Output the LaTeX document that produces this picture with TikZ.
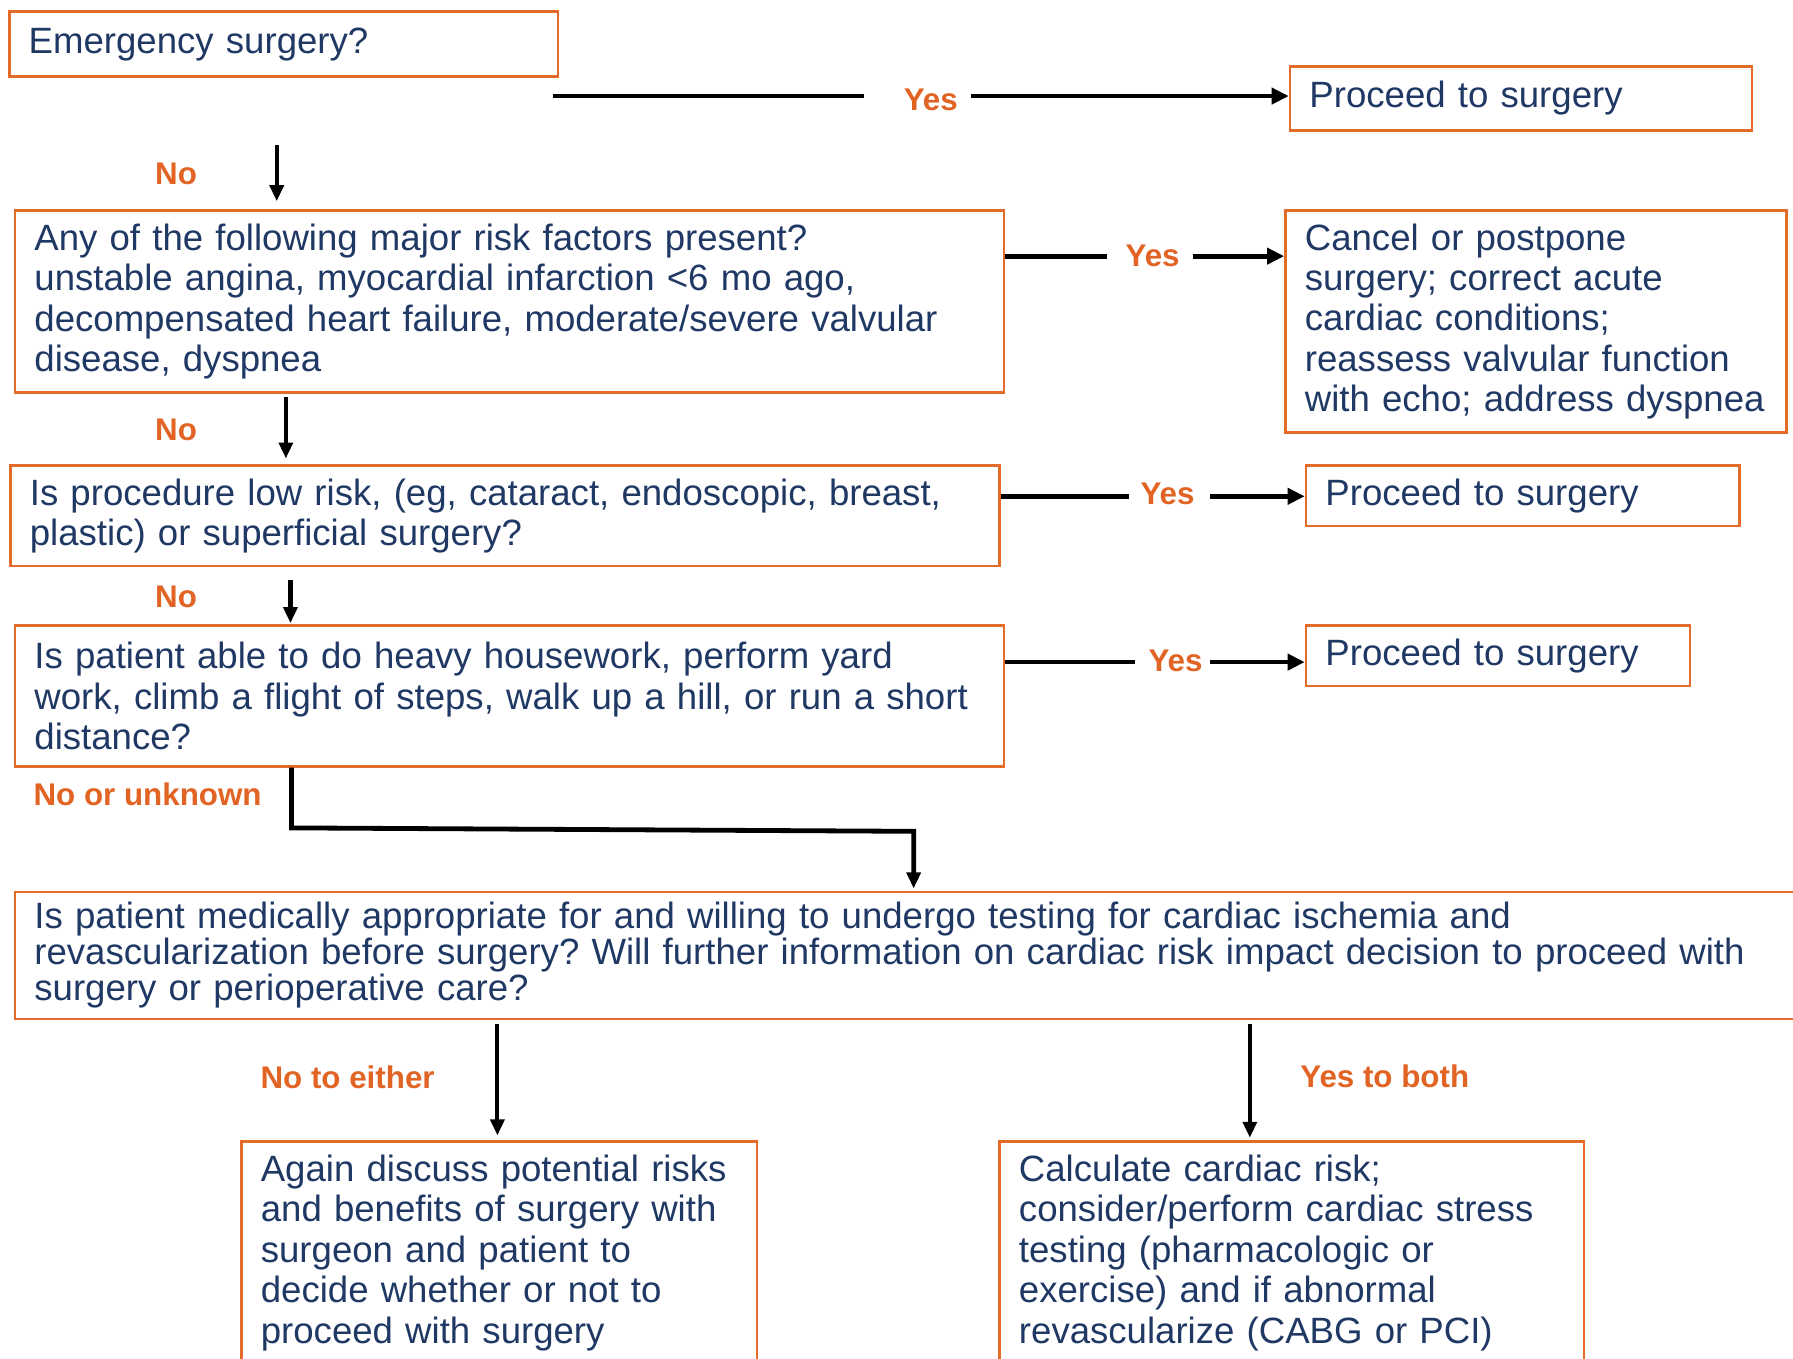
\documentclass[tikz,border=0pt]{standalone}
\usepackage{fontspec}
\setmainfont{Liberation Sans}
\usetikzlibrary{arrows.meta,calc}
\definecolor{boxorange}{RGB}{228,108,42}
\definecolor{navy}{RGB}{31,56,100}
\definecolor{lblorange}{RGB}{226,100,36}
\frenchspacing
\begin{document}
\begin{tikzpicture}[x=0.5pt,y=-0.5pt,
  box/.style={draw=boxorange,line width=1.1pt,anchor=north west,inner xsep=8.5pt,inner ysep=0pt,
    align=left,text=navy,font=\fontsize{16}{17.65}\selectfont},
  lbl/.style={text=lblorange,font=\fontsize{13.7}{15}\selectfont\bfseries,inner sep=0pt},
  yesline/.style={line width=2.1pt},
  yesarrow/.style={line width=2.1pt,-{Triangle[length=7.5pt,width=7pt]}},
  downarrow/.style={line width=1.8pt,-{Triangle[length=7pt,width=6pt]}},
  bentarrow/.style={line width=2.1pt,-{Triangle[length=7pt,width=6pt]}},
]
\useasboundingbox (0,0) rectangle (1568,1188);
\clip (0,0) rectangle (1568,1188);

% boxes
\node[box,minimum width=240pt,text width=223pt,minimum height=28.5pt] (e) at (7,9) {\raisebox{-1pt}{Emergency surgery?}};
\node[box,minimum width=202pt,text width=185pt,minimum height=28pt] (p1) at (1127,57) {Proceed to surgery};
\node[box,minimum width=432.5pt,text width=415.5pt,minimum height=79.5pt] (r) at (12,183)
  {Any of the following major risk factors present?\\unstable angina, myocardial infarction <6 mo ago,\\decompensated heart failure, moderate/severe valvular\\disease, dyspnea};
\node[box,minimum width=219pt,text width=202pt,minimum height=97pt] (c) at (1123,183)
  {Cancel or postpone\\surgery; correct acute\\cardiac conditions;\\reassess valvular function\\with echo; address dyspnea};
\node[box,minimum width=432.5pt,text width=415.5pt,minimum height=44pt] (l) at (8,406)
  {Is procedure low risk, (eg, cataract, endoscopic, breast,\\plastic) or superficial surgery?};
\node[box,minimum width=189.5pt,text width=172.5pt,minimum height=26.5pt] (p2) at (1141,406) {Proceed to surgery};
\node[box,minimum width=432.5pt,text width=415.5pt,minimum height=61.5pt] (f) at (12,546)
  {Is patient able to do heavy housework, perform yard\\work, climb a flight of steps, walk up a hill, or run a short\\distance?};
\node[box,minimum width=168pt,text width=151pt,minimum height=26.5pt] (p3) at (1141,546) {Proceed to surgery};
\node[box,minimum width=787.5pt,text width=770.5pt,minimum height=55.5pt,font=\fontsize{16}{15.75}\selectfont] (m) at (12,779)
  {Is patient medically appropriate for and willing to undergo testing for cardiac ischemia and\\revascularization before surgery? Will further information on cardiac risk impact decision to proceed with\\surgery or perioperative care?};
\node[box,minimum width=225.5pt,text width=208.5pt,minimum height=97.5pt] (d) at (210,997)
  {Again discuss potential risks\\and benefits of surgery with\\surgeon and patient to\\decide whether or not to\\proceed with surgery};
\node[box,minimum width=255.5pt,text width=238.5pt,minimum height=97.5pt] (k) at (873,997)
  {Calculate cardiac risk;\\consider/perform cardiac stress\\testing (pharmacologic or\\exercise) and if abnormal\\revascularize (CABG or PCI)};

% labels
\node[lbl] (y1) at (814,87) {Yes};
\node[lbl] (y2) at (1008,224) {Yes};
\node[lbl] (y3) at (1021,432) {Yes};
\node[lbl] (y4) at (1028,578) {Yes};
\node[lbl] (n1) at (154,152) {No};
\node[lbl] (n2) at (154,376) {No};
\node[lbl] (n3) at (154,522) {No};
\node[lbl,anchor=west] (n4) at (29,695) {No or unknown};
\node[lbl] (n5) at (304,942) {No to either};
\node[lbl] (n6) at (1211,941) {Yes to both};

% yes connectors
\coordinate (s1) at (484,84);
\coordinate (y1l) at ([xshift=-17pt]y1.west);
\coordinate (y1r) at ([xshift=5.5pt]y1.east);
\draw[yesline] (s1) -- (y1l |- s1);
\draw[yesarrow] (y1r |- s1) -- (p1.west |- s1);

\coordinate (y2l) at ([xshift=-8pt]y2.west);
\coordinate (y2r) at ([xshift=5.5pt]y2.east);
\draw[yesline] (r.east |- 0,224) -- (y2l |- 0,224);
\draw[yesarrow] (y2r |- 0,224) -- (c.west |- 0,224);

\coordinate (y3l) at ([xshift=-5pt]y3.west);
\coordinate (y3r) at ([xshift=6.5pt]y3.east);
\draw[yesline] (l.east |- 0,434) -- (y3l |- 0,434);
\draw[yesarrow] (y3r |- 0,434) -- (p2.west |- 0,434);

\coordinate (y4l) at ([xshift=-5.5pt]y4.west);
\coordinate (y4r) at ([xshift=3pt]y4.east);
\draw[yesline] (f.east |- 0,579) -- (y4l |- 0,579);
\draw[yesarrow] (y4r |- 0,579) -- (p3.west |- 0,579);

% no connectors
\coordinate (d1) at (242,127);
\draw[downarrow,shorten >=3.5pt] (d1) -- (d1 |- r.north);
\coordinate (d2) at (250,0);
\draw[downarrow,shorten <=1.5pt,shorten >=2.5pt] (d2 |- r.south) -- (d2 |- l.north);
\coordinate (d3) at (254,0);
\draw[downarrow,shorten <=5.5pt,shorten >=0.5pt] (d3 |- l.south) -- (d3 |- f.north);
\coordinate (d4) at (255,0);
\coordinate (d5) at (799,0);
\draw[bentarrow,shorten >=1pt] (d4 |- f.south) -- (d4 |- 0,724) -- (d5 |- 0,727) -- (d5 |- m.north);
\coordinate (d6) at (435,0);
\draw[downarrow,shorten <=1.5pt,shorten >=2pt] (d6 |- m.south) -- (d6 |- d.north);
\coordinate (d7) at (1093,0);
\draw[downarrow,shorten <=1.5pt,shorten >=1pt] (d7 |- m.south) -- (d7 |- k.north);
\end{tikzpicture}
\end{document}
